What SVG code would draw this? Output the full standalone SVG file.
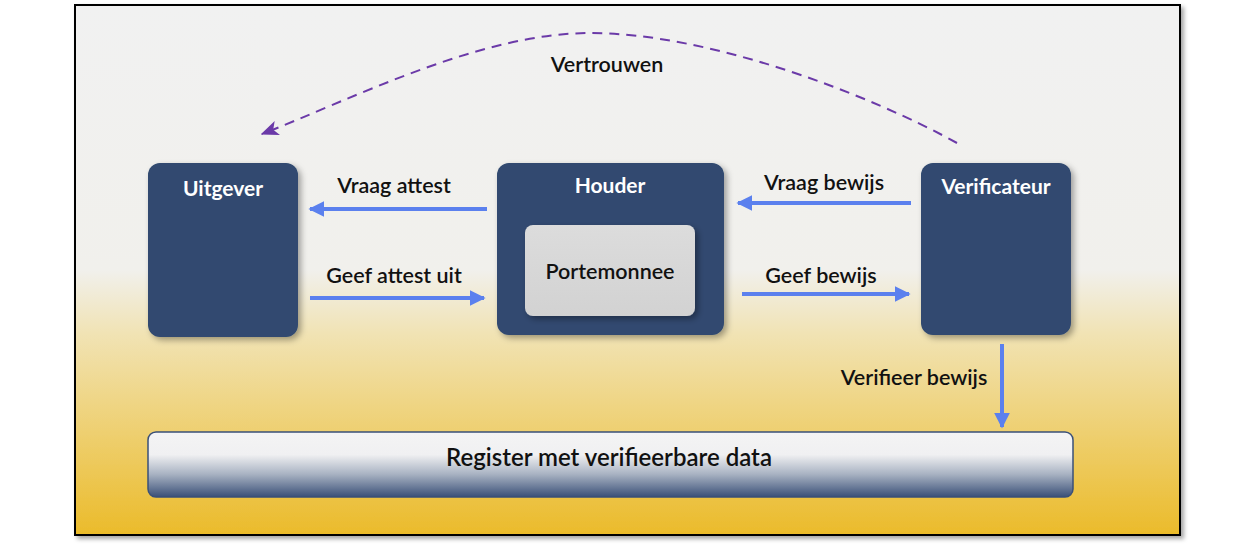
<svg xmlns="http://www.w3.org/2000/svg" width="1254" height="552" viewBox="0 0 1254 552">
<defs>
<linearGradient id="bg" x1="0" y1="0" x2="0" y2="1">
<stop offset="0" stop-color="#f1f1f1"/>
<stop offset="0.5" stop-color="#f1f0ec"/>
<stop offset="0.62" stop-color="#f1e3b4"/>
<stop offset="1" stop-color="#ebbb2a"/>
</linearGradient>
<linearGradient id="reg" x1="0" y1="0" x2="0" y2="1">
<stop offset="0" stop-color="#f4f4f4"/>
<stop offset="0.35" stop-color="#f0f0f2"/>
<stop offset="0.65" stop-color="#a8b2c2"/>
<stop offset="1" stop-color="#3a5078"/>
</linearGradient>
<linearGradient id="wal" x1="0" y1="0" x2="0" y2="1">
<stop offset="0" stop-color="#dcdcdc"/>
<stop offset="1" stop-color="#d2d2d2"/>
</linearGradient>
<filter id="sh" x="-10%" y="-10%" width="125%" height="125%">
<feDropShadow dx="3" dy="3" stdDeviation="3" flood-color="#000" flood-opacity="0.35"/>
</filter>
<filter id="fsh" x="-5%" y="-5%" width="110%" height="110%">
<feDropShadow dx="3" dy="3" stdDeviation="2" flood-color="#000" flood-opacity="0.35"/>
</filter>
<marker id="ab" viewBox="0 0 10 10" refX="9" refY="5" markerWidth="4" markerHeight="4" orient="auto-start-reverse" markerUnits="strokeWidth">
<path d="M0,0 L10,5 L0,10 z" fill="#5b80ee"/>
</marker>
<marker id="ap" viewBox="0 0 12 10" refX="11" refY="5" markerWidth="9" markerHeight="8" orient="auto" markerUnits="strokeWidth">
<path d="M0,0 L12,5 L0,10 L3,5 z" fill="#6b3aa8"/>
</marker>
</defs>
<style>
.node{fill:#304a6f;filter:url(#sh)}
.title{font-family:"Lato","Liberation Sans",sans-serif;font-weight:700;font-size:21px;fill:#ffffff;text-anchor:middle}
.lbl{font-family:"Lato","Liberation Sans",sans-serif;font-weight:600;font-size:21.5px;fill:#111111;text-anchor:middle}
.arr{stroke:#5b80ee;stroke-width:4;fill:none;marker-end:url(#ab)}
</style>
<rect x="75" y="5" width="1105" height="530" fill="url(#bg)" stroke="#000" stroke-width="2" filter="url(#fsh)"/>
<g id="uitgever">
<rect class="node" x="148" y="163" width="150" height="174" rx="12"/>
<text class="title" x="223" y="196">Uitgever</text>
</g>
<g id="houder">
<rect class="node" x="497" y="163" width="227" height="172" rx="12"/>
<text class="title" x="610" y="193">Houder</text>
</g>
<g id="portemonnee">
<rect x="525" y="225" width="170" height="91" rx="8" fill="url(#wal)" filter="url(#sh)"/>
<text class="lbl" x="610" y="279">Portemonnee</text>
</g>
<g id="verificateur">
<rect class="node" x="921" y="163" width="150" height="172" rx="12"/>
<text class="title" x="996" y="194">Verificateur</text>
</g>
<g id="register">
<rect x="148" y="432" width="925" height="65" rx="8" fill="url(#reg)" stroke="#3a5078" stroke-width="1.5"/>
<text class="lbl" x="609" y="466" style="font-size:24px">Register met verifieerbare data</text>
</g>
<g id="connectors">
<path d="M957,143 C870,95 710,33 590,33 C480,33 350,100 262,134" stroke="#6b3aa8" stroke-width="2" stroke-dasharray="10,7" fill="none" marker-end="url(#ap)"/>
<line class="arr" x1="487" y1="209" x2="310" y2="209"/>
<line class="arr" x1="310" y1="298" x2="484" y2="298"/>
<line class="arr" x1="911" y1="203" x2="738" y2="203"/>
<line class="arr" x1="742" y1="294" x2="909" y2="294"/>
<line class="arr" x1="1002" y1="344" x2="1002" y2="427"/>
<text class="lbl" x="607" y="72">Vertrouwen</text>
<text class="lbl" x="394" y="193">Vraag attest</text>
<text class="lbl" x="394" y="283">Geef attest uit</text>
<text class="lbl" x="824" y="190">Vraag bewijs</text>
<text class="lbl" x="821" y="283">Geef bewijs</text>
<text class="lbl" x="914" y="385">Verifieer bewijs</text>
</g>
</svg>
